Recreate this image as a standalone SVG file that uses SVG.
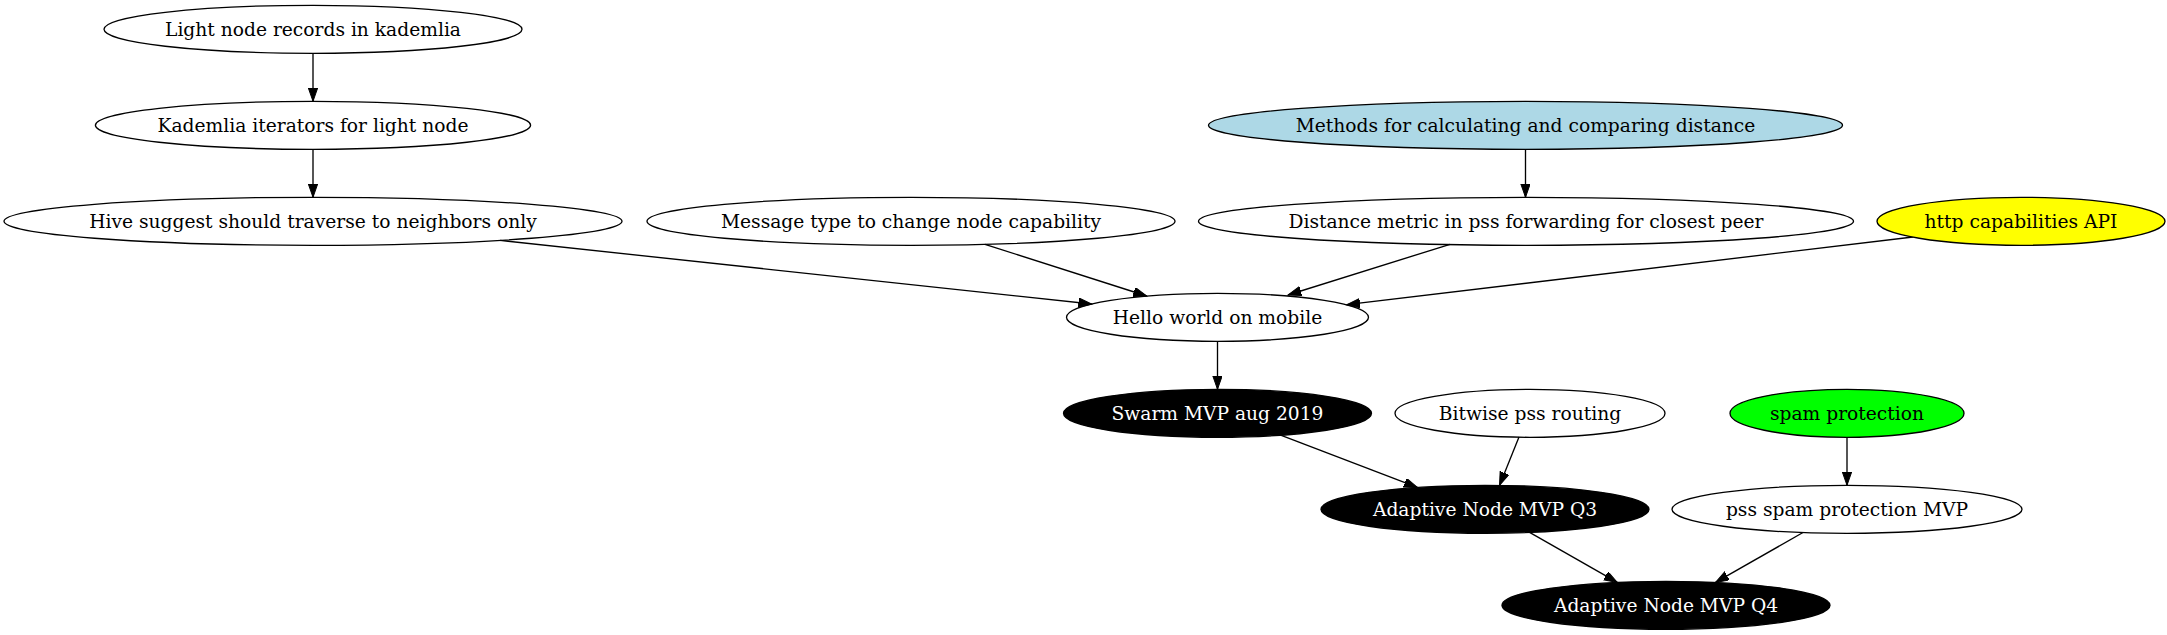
<svg xmlns="http://www.w3.org/2000/svg" width="2167" height="635" viewBox="0 0 2167 635">
<style>
.n ellipse{stroke:#000;stroke-width:1.33;fill:none}
.n text{font-family:"DejaVu Serif","Liberation Serif",serif;font-size:18.67px;text-anchor:middle;fill:#000}
.blk ellipse{fill:#000}
.blk text{fill:#fff}
.e line{stroke:#000;stroke-width:1.33;marker-end:url(#ah)}
</style>
<defs>
<marker id="ah" markerUnits="userSpaceOnUse" markerWidth="15" markerHeight="11" refX="13.33" refY="4.67" orient="auto">
<path d="M0,0 L13.33,4.67 L0,9.33 z" fill="#000" stroke="#000" stroke-width="1"/>
</marker>
</defs>
<rect width="2167" height="635" fill="#fff"/>
<g class="e">
<line x1="313" y1="53.3" x2="313" y2="101.3"/>
<line x1="313" y1="149.3" x2="313" y2="197.3"/>
<line x1="1525.5" y1="149.3" x2="1525.5" y2="197.3"/>
<line x1="500" y1="240.4" x2="1091.7" y2="304"/>
<line x1="985" y1="244.3" x2="1146.7" y2="296"/>
<line x1="1450" y1="244.3" x2="1288" y2="295"/>
<line x1="1913" y1="237" x2="1346.7" y2="304.7"/>
<line x1="1217.5" y1="341.3" x2="1217.5" y2="389.3"/>
<line x1="1280.6" y1="435.2" x2="1417.4" y2="487.4"/>
<line x1="1519" y1="437.1" x2="1499.5" y2="485.4"/>
<line x1="1847" y1="437.3" x2="1847" y2="485.3"/>
<line x1="1529.6" y1="532.4" x2="1617.3" y2="582.4"/>
<line x1="1803" y1="532.5" x2="1715.5" y2="582.4"/>
</g>
<g id="light" class="n"><ellipse cx="313" cy="29.3" rx="209" ry="24"/><text x="313" y="35.8">Light node records in kademlia</text></g>
<g id="kadit" class="n"><ellipse cx="313" cy="125.3" rx="217.6" ry="24"/><text x="313" y="131.8">Kademlia iterators for light node</text></g>
<g id="methods" class="n"><ellipse cx="1525.5" cy="125.3" rx="317" ry="24" style="fill:#add8e6"/><text x="1525.5" y="131.8">Methods for calculating and comparing distance</text></g>
<g id="hive" class="n"><ellipse cx="313" cy="221.3" rx="309" ry="24"/><text x="313" y="227.8">Hive suggest should traverse to neighbors only</text></g>
<g id="msgtype" class="n"><ellipse cx="911" cy="221.3" rx="264" ry="24"/><text x="911" y="227.8">Message type to change node capability</text></g>
<g id="distance" class="n"><ellipse cx="1526" cy="221.3" rx="327.5" ry="24"/><text x="1526" y="227.8">Distance metric in pss forwarding for closest peer</text></g>
<g id="http" class="n"><ellipse cx="2021" cy="221.3" rx="144" ry="24" style="fill:#ffff00"/><text x="2021" y="227.8">http capabilities API</text></g>
<g id="hello" class="n"><ellipse cx="1217.5" cy="317.3" rx="151" ry="24"/><text x="1217.5" y="323.8">Hello world on mobile</text></g>
<g id="swarm" class="n blk"><ellipse cx="1217.5" cy="413.3" rx="154" ry="24"/><text x="1217.5" y="419.8">Swarm MVP aug 2019</text></g>
<g id="bitwise" class="n"><ellipse cx="1530" cy="413.3" rx="135" ry="24"/><text x="1530" y="419.8">Bitwise pss routing</text></g>
<g id="spam" class="n"><ellipse cx="1847" cy="413.3" rx="117" ry="24" style="fill:#00ff00"/><text x="1847" y="419.8">spam protection</text></g>
<g id="q3" class="n blk"><ellipse cx="1485" cy="509.3" rx="164" ry="24"/><text x="1485" y="515.8">Adaptive Node MVP Q3</text></g>
<g id="pssmvp" class="n"><ellipse cx="1847" cy="509.3" rx="175" ry="24"/><text x="1847" y="515.8">pss spam protection MVP</text></g>
<g id="q4" class="n blk"><ellipse cx="1666" cy="605.3" rx="164" ry="24"/><text x="1666" y="611.8">Adaptive Node MVP Q4</text></g>
</svg>
